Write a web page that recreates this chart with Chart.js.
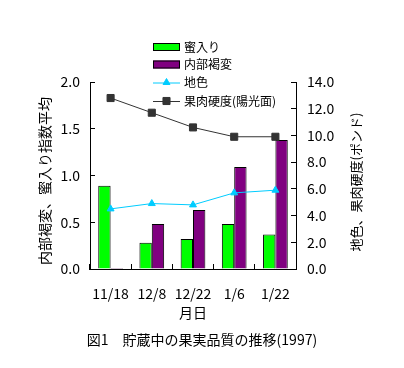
<!DOCTYPE html>
<html>
<head>
<meta charset="utf-8">
<script src="https://cdn.jsdelivr.net/npm/chart.js@4"></script>
<style>body{margin:0;background:#fff}</style>
</head>
<body>
<canvas id="chart" width="404" height="368"></canvas>
<script>
// 月日
const dates = ['11/18', '12/8', '12/22', '1/6', '1/22'];
// 左軸 (指数平均)
const mitsuiri = [0.89, 0.28, 0.32, 0.48, 0.37];
const naibuKappen = [0.01, 0.48, 0.63, 1.09, 1.38];
// 右軸 (地色・硬度)
const jiiro = [4.5, 4.9, 4.8, 5.7, 5.9];
const kataSa = [12.8, 11.7, 10.6, 9.9, 9.9];

const JP = '"Noto Sans CJK JP", sans-serif';

const legendItems = [
  {label: '蜜入り', kind: 'box', color: '#00ff00'},
  {label: '内部褐変', kind: 'box', color: '#800080'},
  {label: '地色', kind: 'line', color: '#00ccff', pointStyle: 'triangle', radius: 4},
  {label: '果肉硬度(陽光面)', kind: 'line', color: '#333333', pointStyle: 'rect', radius: 5}
];

const extras = {
  id: 'extras',
  afterDraw(chart) {
    const ctx = chart.ctx;
    ctx.save();
    ctx.fillStyle = '#000';
    ctx.textBaseline = 'middle';

    // legend
    ctx.font = '12px ' + JP;
    legendItems.forEach((it, i) => {
      const y = [47, 64.5, 82.5, 101][i];
      if (it.kind == 'box') {
        ctx.fillStyle = it.color;
        ctx.fillRect(153, y - 4, 27, 8);
        ctx.strokeStyle = '#000';
        ctx.lineWidth = 1;
        ctx.strokeRect(153.5, y - 3.5, 26, 7);
      } else {
        ctx.strokeStyle = it.color;
        ctx.lineWidth = 1;
        ctx.beginPath();
        ctx.moveTo(153, y + 0.5);
        ctx.lineTo(180, y + 0.5);
        ctx.stroke();
        ctx.fillStyle = it.color;
        Chart.helpers.drawPoint(ctx, {pointStyle: it.pointStyle, radius: it.radius, rotation: 0, borderWidth: 1}, 166.5, y);
      }
      ctx.fillStyle = '#000';
      ctx.textAlign = 'left';
      ctx.fillText(it.label, 184, y);
    });

    // axis titles
    ctx.textAlign = 'center';
    ctx.font = '14px ' + JP;
    ctx.save();
    ctx.translate(45, 181);
    ctx.rotate(-Math.PI / 2);
    ctx.fillText('内部褐変、蜜入り指数平均', 0, 0);
    ctx.restore();

    ctx.font = '13px ' + JP;
    ctx.save();
    ctx.translate(356, 182);
    ctx.rotate(-Math.PI / 2);
    ctx.fillText('地色、果肉硬度(ポンド)', 0, 0);
    ctx.restore();

    ctx.font = '14px ' + JP;
    ctx.fillText('月日', 193, 313);
    ctx.fillText('図1　貯蔵中の果実品質の推移(1997)', 202, 340);
    ctx.restore();
  }
};

new Chart(document.getElementById('chart').getContext('2d'), {
  type: 'bar',
  data: {
    labels: dates,
    datasets: [
      {type: 'bar', label: '蜜入り', data: mitsuiri, yAxisID: 'y', backgroundColor: '#00ff00',
        borderColor: '#000', borderWidth: 1, order: 2},
      {type: 'bar', label: '内部褐変', data: naibuKappen, yAxisID: 'y', backgroundColor: '#800080',
        borderColor: '#000', borderWidth: 1, order: 2},
      {type: 'line', label: '地色', data: jiiro, yAxisID: 'y2', borderColor: '#00ccff',
        backgroundColor: '#00ccff', borderWidth: 1, pointStyle: 'triangle', pointRadius: 4, tension: 0, order: 1},
      {type: 'line', label: '果肉硬度(陽光面)', data: kataSa, yAxisID: 'y2', borderColor: '#333333',
        backgroundColor: '#333333', borderWidth: 1, pointStyle: 'rect', pointRadius: 5, tension: 0, order: 1}
    ]
  },
  options: {
    responsive: false,
    animation: false,
    layout: {padding: {top: 82}},
    datasets: {bar: {categoryPercentage: 0.6, barPercentage: 1}},
    plugins: {legend: {display: false}, tooltip: {enabled: false}},
    scales: {
      x: {
        grid: {drawOnChartArea: false, tickLength: -5, color: '#000', offset: true},
        border: {color: '#000'},
        ticks: {color: '#000', font: {family: JP, size: 14}, padding: 21, maxRotation: 0, autoSkip: false},
        afterFit: s => { s.height = 99; }
      },
      y: {
        position: 'left', min: 0, max: 2,
        grid: {drawOnChartArea: false, tickLength: -5, color: '#000'},
        border: {color: '#000'},
        ticks: {stepSize: 0.5, color: '#000', font: {family: JP, size: 14}, padding: 15,
          callback: v => v.toFixed(1)},
        afterFit: s => { s.width = 90; }
      },
      y2: {
        position: 'right', min: 0, max: 14,
        grid: {drawOnChartArea: false, tickLength: -5, color: '#000'},
        border: {color: '#000'},
        ticks: {stepSize: 2, color: '#000', font: {family: JP, size: 14}, padding: 16,
          callback: v => v.toFixed(1)},
        afterFit: s => { s.width = 108; }
      }
    }
  },
  plugins: [extras]
});
</script>
</body>
</html>
